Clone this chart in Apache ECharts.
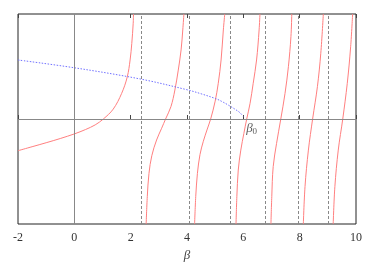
<!DOCTYPE html>
<html>
<head>
<meta charset="utf-8">
<script src="https://cdn.jsdelivr.net/npm/echarts@6/dist/echarts.min.js"></script>
<style>html,body{margin:0;padding:0;background:#fff}#c{width:374px;height:262px}</style>
</head>
<body>
<div id="c"></div>
<script>
// x tick labels
const xTicks = [-2, 0, 2, 4, 6, 8, 10];
// vertical dashed asymptote lines (beta)
const asymptotes = [2.36, 4.07, 5.53, 6.79, 7.95, 9.03];
// red curve branches: [beta, value]
const red1 = [[-2,-1.51],[-1.5,-1.32],[-1,-1.13],[-0.5,-0.93],[0,-0.71],[0.4,-0.50],[0.74,-0.28],[1.03,0.0],[1.38,0.47],[1.68,1.22],[1.88,2.01],[1.98,2.81],[2.04,3.6],[2.09,4.56],[2.1,5]];
const red2 = [[2.55,-5],[2.59,-3.70],[2.65,-2.59],[2.75,-1.75],[2.92,-1.0],[3.10,-0.44],[3.24,0],[3.43,0.59],[3.57,1.38],[3.69,2.33],[3.79,3.29],[3.85,4.24],[3.89,5]];
const red3 = [[4.27,-5],[4.31,-3.70],[4.37,-2.59],[4.46,-1.70],[4.58,-1.06],[4.72,-0.48],[4.84,0],[5.0,0.85],[5.11,1.70],[5.21,2.81],[5.29,4.24],[5.34,5]];
const red4 = [[5.74,-5],[5.77,-3.70],[5.82,-2.43],[5.91,-1.48],[6.02,-0.68],[6.12,0],[6.24,0.75],[6.35,1.70],[6.47,2.81],[6.56,4.24],[6.59,5]];
const red5 = [[6.98,-5],[7.01,-3.70],[7.06,-2.27],[7.18,-1.16],[7.33,0],[7.48,1.22],[7.60,2.49],[7.69,3.92],[7.72,5]];
const red6 = [[8.13,-5],[8.19,-3.22],[8.31,-1.48],[8.46,0],[8.63,1.54],[8.75,3.13],[8.84,5]];
const red7 = [[9.19,-5],[9.25,-3.22],[9.37,-1.48],[9.53,0],[9.69,1.70],[9.81,3.44],[9.88,5]];
// blue dotted curve
const blue = [[-2,2.81],[0,2.44],[2.36,1.90],[4.04,1.38],[4.5,1.2],[5.02,0.97],[5.23,0.84],[5.47,0.66],[5.70,0.47],[5.88,0.30],[6.0,0.12]];
// beta_0 label position
const beta0 = [6.1, 0];

const redBranches = [red1, red2, red3, red4, red5, red6, red7];
const serif = '"Liberation Serif", "DejaVu Serif", serif';

const series = redBranches.map(d => ({
  type: 'line', data: d, showSymbol: false, smooth: 0.35, clip: true,
  lineStyle: { color: '#ff7f7f', width: 1 }, silent: true, z: 3
}));
series.push({
  type: 'line', data: blue, showSymbol: false, smooth: 0.35,
  lineStyle: { color: '#7070ff', width: 1, type: [1.5, 1.5] }, z: 3,
  markLine: {
    silent: true, symbol: 'none', label: { show: false },
    lineStyle: { color: '#888', width: 1, type: 'solid' },
    data: [{ yAxis: 0 }, { xAxis: 0 }]
  }
});
series.push({
  type: 'line', data: [], showSymbol: false,
  markLine: {
    silent: true, symbol: 'none', label: { show: false },
    lineStyle: { color: '#888', width: 1, type: [3, 2] },
    data: asymptotes.map(a => ({ xAxis: a }))
  }
});
series.push({
  type: 'scatter', data: [beta0], symbolSize: 0, z: 5,
  label: {
    show: true, position: [0, 2], align: 'left', verticalAlign: 'top',
    formatter: '{b|β}{s|0}',
    rich: {
      b: { fontFamily: serif, fontStyle: 'italic', fontSize: 13, color: '#333' },
      s: { fontFamily: serif, fontSize: 9, color: '#333', verticalAlign: 'bottom', padding: [6, 0, 0, 0] }
    }
  }
});

const chart = echarts.init(document.getElementById('c'));
chart.setOption({
  animation: false,
  grid: { left: 18, right: 18, top: 14, bottom: 38, show: true, borderColor: '#222', borderWidth: 1,
          containLabel: false, outerBoundsMode: 'none' },
  xAxis: [{
    type: 'value', min: -2, max: 10, interval: 2, position: 'bottom',
    name: 'β', nameLocation: 'middle', nameGap: 25,
    nameTextStyle: { fontFamily: serif, fontStyle: 'italic', fontSize: 13, color: '#444' },
    axisLine: { show: false },
    axisTick: { show: true, inside: true, length: 4, lineStyle: { color: '#444' } },
    axisLabel: { fontFamily: serif, fontSize: 12, color: '#333', margin: 8,
      formatter: v => xTicks.includes(v) ? String(v) : '' },
    splitLine: { show: false }
  }, {
    type: 'value', min: -2, max: 10, interval: 2, position: 'top',
    axisLine: { show: false },
    axisTick: { show: true, inside: true, length: 4, lineStyle: { color: '#444' } },
    axisLabel: { show: false }, splitLine: { show: false }
  }],
  yAxis: {
    type: 'value', min: -5, max: 5,
    axisLine: { show: false }, axisTick: { show: false },
    axisLabel: { show: false }, splitLine: { show: false }
  },
  series: series
});
</script>
</body>
</html>
